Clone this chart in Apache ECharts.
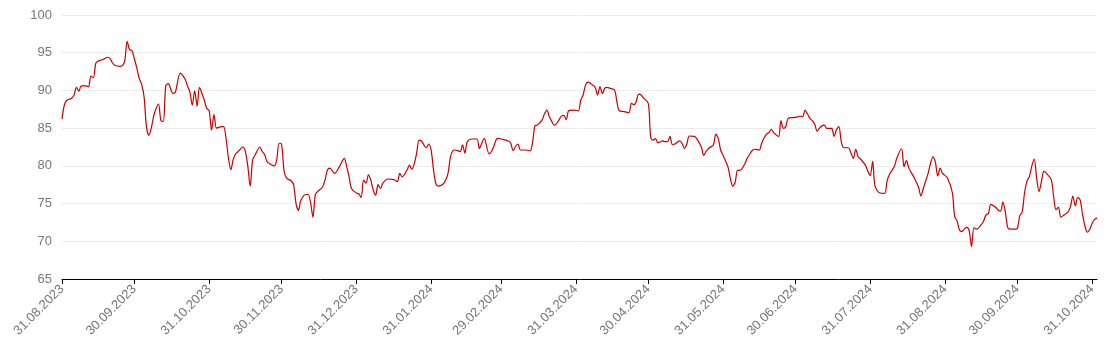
<!DOCTYPE html>
<html>
<head>
<meta charset="utf-8">
<script src="https://cdn.jsdelivr.net/npm/echarts@6/dist/echarts.min.js"></script>
<style>html,body{margin:0;padding:0;background:#fff}#c{width:1112px;height:358px}</style>
</head>
<body>
<div id="c"></div>
<script>
const startDate = '31.08.2023';
const endDate = '02.11.2024';
const tickLabels = ['31.08.2023','30.09.2023','31.10.2023','30.11.2023','31.12.2023','31.01.2024','29.02.2024','31.03.2024','30.04.2024','31.05.2024','30.06.2024','31.07.2024','31.08.2024','30.09.2024','31.10.2024'];
const yTicks = [65, 70, 75, 80, 85, 90, 95, 100];

const dates = [
'31.08.2023',
'01.09.2023','02.09.2023','04.09.2023','05.09.2023','06.09.2023','07.09.2023','08.09.2023','10.09.2023','11.09.2023','12.09.2023','13.09.2023','14.09.2023','15.09.2023','17.09.2023','19.09.2023','20.09.2023','21.09.2023','22.09.2023','24.09.2023','25.09.2023','26.09.2023','27.09.2023','28.09.2023','29.09.2023','30.09.2023',
'01.10.2023','02.10.2023','03.10.2023','04.10.2023','05.10.2023','06.10.2023','07.10.2023','08.10.2023','09.10.2023','10.10.2023','11.10.2023','12.10.2023','13.10.2023','14.10.2023','16.10.2023','17.10.2023','19.10.2023','20.10.2023','21.10.2023','22.10.2023','23.10.2023','24.10.2023','25.10.2023','26.10.2023','27.10.2023','28.10.2023','29.10.2023','30.10.2023','31.10.2023',
'01.11.2023','02.11.2023','03.11.2023','04.11.2023','05.11.2023','06.11.2023','07.11.2023','08.11.2023','09.11.2023','10.11.2023','11.11.2023','12.11.2023','14.11.2023','15.11.2023','16.11.2023','17.11.2023','18.11.2023','19.11.2023','21.11.2023','22.11.2023','23.11.2023','24.11.2023','26.11.2023','27.11.2023','28.11.2023','29.11.2023','30.11.2023',
'01.12.2023','02.12.2023','04.12.2023','05.12.2023','06.12.2023','07.12.2023','08.12.2023','10.12.2023','11.12.2023','12.12.2023','13.12.2023','14.12.2023','15.12.2023','17.12.2023','18.12.2023','19.12.2023','20.12.2023','22.12.2023','24.12.2023','26.12.2023','27.12.2023','28.12.2023','29.12.2023','31.12.2023',
'01.01.2024','02.01.2024','03.01.2024','04.01.2024','05.01.2024','06.01.2024','07.01.2024','08.01.2024','09.01.2024','10.01.2024','11.01.2024','13.01.2024','15.01.2024','16.01.2024','17.01.2024','18.01.2024','19.01.2024','21.01.2024','22.01.2024','23.01.2024','24.01.2024','25.01.2024','26.01.2024','27.01.2024','29.01.2024','30.01.2024','31.01.2024',
'01.02.2024','02.02.2024','03.02.2024','05.02.2024','06.02.2024','07.02.2024','08.02.2024','09.02.2024','10.02.2024','12.02.2024','13.02.2024','14.02.2024','15.02.2024','17.02.2024','19.02.2024','20.02.2024','21.02.2024','22.02.2024','24.02.2024','25.02.2024','26.02.2024','27.02.2024','28.02.2024','29.02.2024',
'03.03.2024','04.03.2024','05.03.2024','06.03.2024','07.03.2024','08.03.2024','10.03.2024','12.03.2024','13.03.2024','14.03.2024','15.03.2024','17.03.2024','18.03.2024','19.03.2024','20.03.2024','21.03.2024','22.03.2024','23.03.2024','24.03.2024','25.03.2024','26.03.2024','27.03.2024','28.03.2024','30.03.2024',
'01.04.2024','02.04.2024','03.04.2024','04.04.2024','05.04.2024','07.04.2024','08.04.2024','09.04.2024','10.04.2024','11.04.2024','12.04.2024','13.04.2024','14.04.2024','16.04.2024','17.04.2024','18.04.2024','20.04.2024','22.04.2024','23.04.2024','24.04.2024','25.04.2024','26.04.2024','27.04.2024','28.04.2024','30.04.2024',
'01.05.2024','02.05.2024','03.05.2024','04.05.2024','06.05.2024','07.05.2024','08.05.2024','09.05.2024','10.05.2024','11.05.2024','13.05.2024','14.05.2024','15.05.2024','16.05.2024','17.05.2024','19.05.2024','20.05.2024','22.05.2024','23.05.2024','24.05.2024','25.05.2024','27.05.2024','28.05.2024','29.05.2024','30.05.2024','31.05.2024',
'02.06.2024','03.06.2024','04.06.2024','05.06.2024','06.06.2024','07.06.2024','09.06.2024','10.06.2024','11.06.2024','12.06.2024','13.06.2024','15.06.2024','16.06.2024','17.06.2024','18.06.2024','19.06.2024','20.06.2024','21.06.2024','23.06.2024','24.06.2024','25.06.2024','26.06.2024','27.06.2024','29.06.2024',
'01.07.2024','02.07.2024','03.07.2024','04.07.2024','05.07.2024','06.07.2024','07.07.2024','08.07.2024','09.07.2024','10.07.2024','11.07.2024','12.07.2024','13.07.2024','15.07.2024','16.07.2024','17.07.2024','18.07.2024','19.07.2024','20.07.2024','21.07.2024','22.07.2024','23.07.2024','24.07.2024','25.07.2024','26.07.2024','27.07.2024','29.07.2024','30.07.2024','31.07.2024',
'01.08.2024','02.08.2024','04.08.2024','06.08.2024','07.08.2024','08.08.2024','10.08.2024','11.08.2024','13.08.2024','14.08.2024','15.08.2024','16.08.2024','18.08.2024','20.08.2024','21.08.2024','22.08.2024','24.08.2024','25.08.2024','26.08.2024','27.08.2024','28.08.2024','29.08.2024','30.08.2024',
'01.09.2024','03.09.2024','04.09.2024','05.09.2024','06.09.2024','07.09.2024','08.09.2024','09.09.2024','10.09.2024','11.09.2024','12.09.2024','13.09.2024','15.09.2024','16.09.2024','17.09.2024','18.09.2024','19.09.2024','21.09.2024','22.09.2024','23.09.2024','24.09.2024','25.09.2024','26.09.2024','27.09.2024','29.09.2024','30.09.2024',
'01.10.2024','02.10.2024','03.10.2024','04.10.2024','05.10.2024','06.10.2024','07.10.2024','08.10.2024','09.10.2024','10.10.2024','11.10.2024','12.10.2024','14.10.2024','15.10.2024','16.10.2024','17.10.2024','18.10.2024','19.10.2024','21.10.2024','22.10.2024','23.10.2024','24.10.2024','25.10.2024','26.10.2024','27.10.2024','28.10.2024','29.10.2024','30.10.2024','31.10.2024',
'01.11.2024','02.11.2024'
];

const values = [
86.2,
88.1,88.7,88.95,89.4,90.4,89.9,90.6,90.6,90.5,91.9,91.7,93.6,93.9,94.1,94.4,94.2,93.6,93.3,93.2,93.3,93.9,96.5,95.4,95.3,94.2,
93.0,91.6,90.8,89.2,85.2,84.05,85.0,86.6,87.6,88.2,86.0,85.9,90.6,90.9,89.6,89.8,92.3,92.0,91.5,90.6,89.8,88.07,89.96,87.9,90.4,89.6,88.7,87.6,87.3,
84.75,86.8,85.0,85.1,85.2,85.2,83.6,81.0,79.5,80.9,81.6,81.9,82.5,81.9,80.0,77.3,80.8,81.4,82.5,81.9,81.5,80.55,80.1,79.98,80.8,83.0,82.9,
79.45,78.4,78.0,77.5,75.0,74.1,75.4,76.2,76.2,75.2,73.2,76.2,76.6,77.2,78.1,79.45,79.7,79.0,79.9,81.0,79.9,78.55,77.0,76.4,
76.3,75.8,78.1,77.7,78.8,78.1,76.8,76.1,77.5,77.0,77.7,78.26,78.2,78.1,77.9,79.0,78.55,79.45,80.1,79.55,80.3,81.7,83.4,83.3,82.4,82.9,82.1,
79.45,77.6,77.3,77.6,78.1,79.0,81.2,82.0,82.1,81.9,82.8,81.7,83.2,83.56,83.56,82.3,83.0,83.65,81.6,81.9,82.6,83.5,83.65,83.56,
83.3,83.0,82.0,82.6,82.9,82.1,82.1,82.0,83.0,85.3,85.4,86.1,86.9,87.4,86.5,85.9,85.4,85.6,86.1,86.6,86.7,86.1,87.3,87.4,
87.3,88.7,89.4,90.7,91.1,90.7,90.4,89.4,90.5,89.6,90.3,90.4,90.3,90.06,88.5,87.3,87.2,87.05,88.3,88.1,88.5,89.5,89.4,89.0,88.3,
83.8,83.4,83.6,83.07,83.3,83.2,83.2,83.9,82.8,82.9,83.3,83.0,82.3,82.9,83.96,83.9,83.65,82.5,81.4,81.9,82.3,82.8,84.2,83.65,82.1,81.4,
79.9,78.4,77.3,77.8,79.4,79.4,80.25,81.0,81.5,82.0,82.2,82.1,83.0,83.7,84.2,84.4,84.85,84.4,83.9,85.99,84.98,85.2,86.3,86.4,
86.5,86.6,86.5,87.4,86.9,86.3,85.99,85.5,84.6,85.0,85.3,85.4,84.97,84.97,83.9,84.75,85.2,83.2,82.4,82.4,82.4,81.7,81.0,82.2,81.2,80.9,80.1,79.3,78.7,
80.6,77.3,76.4,76.35,78.0,78.9,79.9,81.0,82.3,79.9,80.7,79.7,78.55,77.2,76.0,77.0,79.0,80.35,81.2,80.5,78.65,79.7,79.0,
78.4,76.5,73.3,72.7,71.5,71.3,71.6,71.85,71.4,69.3,71.8,71.6,72.2,72.7,73.5,73.7,74.9,74.5,74.15,74.0,75.2,73.9,71.8,71.6,71.6,71.7,
73.4,73.9,76.5,78.0,78.6,80.0,80.9,78.3,76.6,78.0,79.3,79.0,78.2,76.0,74.2,74.5,73.2,73.4,73.9,74.6,76.0,74.7,75.8,75.5,73.6,72.0,71.2,71.6,72.4,
72.9,73.1
];

function parseDate(s) {
  const p = s.split('.');
  return Date.UTC(+p[2], +p[1] - 1, +p[0]);
}
const DAY = 86400000;
const t0 = parseDate(startDate);
const dayIndex = s => Math.round((parseDate(s) - t0) / DAY);
const labelByIndex = {};
tickLabels.forEach(s => { labelByIndex[dayIndex(s)] = s; });
const seriesData = dates.map((d, i) => [dayIndex(d), values[i]]);
const tickIdx = tickLabels.map(dayIndex);

const chart = echarts.init(document.getElementById('c'), null, {renderer: 'canvas'});
chart.setOption({
  animation: false,
  backgroundColor: '#fff',
  grid: {left: 62, right: 15, top: 15, bottom: 79, containLabel: false},
  xAxis: {
    type: 'value',
    min: 0,
    max: dayIndex(endDate),
    splitLine: {show: false},
    axisLine: {show: true, lineStyle: {color: '#000', width: 1}},
    axisTick: {show: true, customValues: tickIdx, length: 5, lineStyle: {color: '#000'}},
    axisLabel: {
      customValues: tickIdx,
      rotate: 45,
      color: '#777',
      fontFamily: 'Liberation Sans, Arial, sans-serif',
      fontSize: 13,
      margin: 8,
      formatter: v => labelByIndex[Math.round(v)] || ''
    }
  },
  yAxis: {
    type: 'value',
    min: yTicks[0],
    max: yTicks[yTicks.length - 1],
    interval: 5,
    axisLine: {show: false},
    axisTick: {show: false},
    splitLine: {show: true, lineStyle: {color: '#ececec', width: 1}},
    axisLabel: {color: '#777', fontFamily: 'Liberation Sans, Arial, sans-serif', fontSize: 13, margin: 10}
  },
  series: [{
    type: 'line',
    data: seriesData,
    showSymbol: false,
    smooth: 0.3,
    lineStyle: {color: '#c80000', width: 1.2},
    itemStyle: {color: '#c80000'}
  }]
});
</script>
</body>
</html>
